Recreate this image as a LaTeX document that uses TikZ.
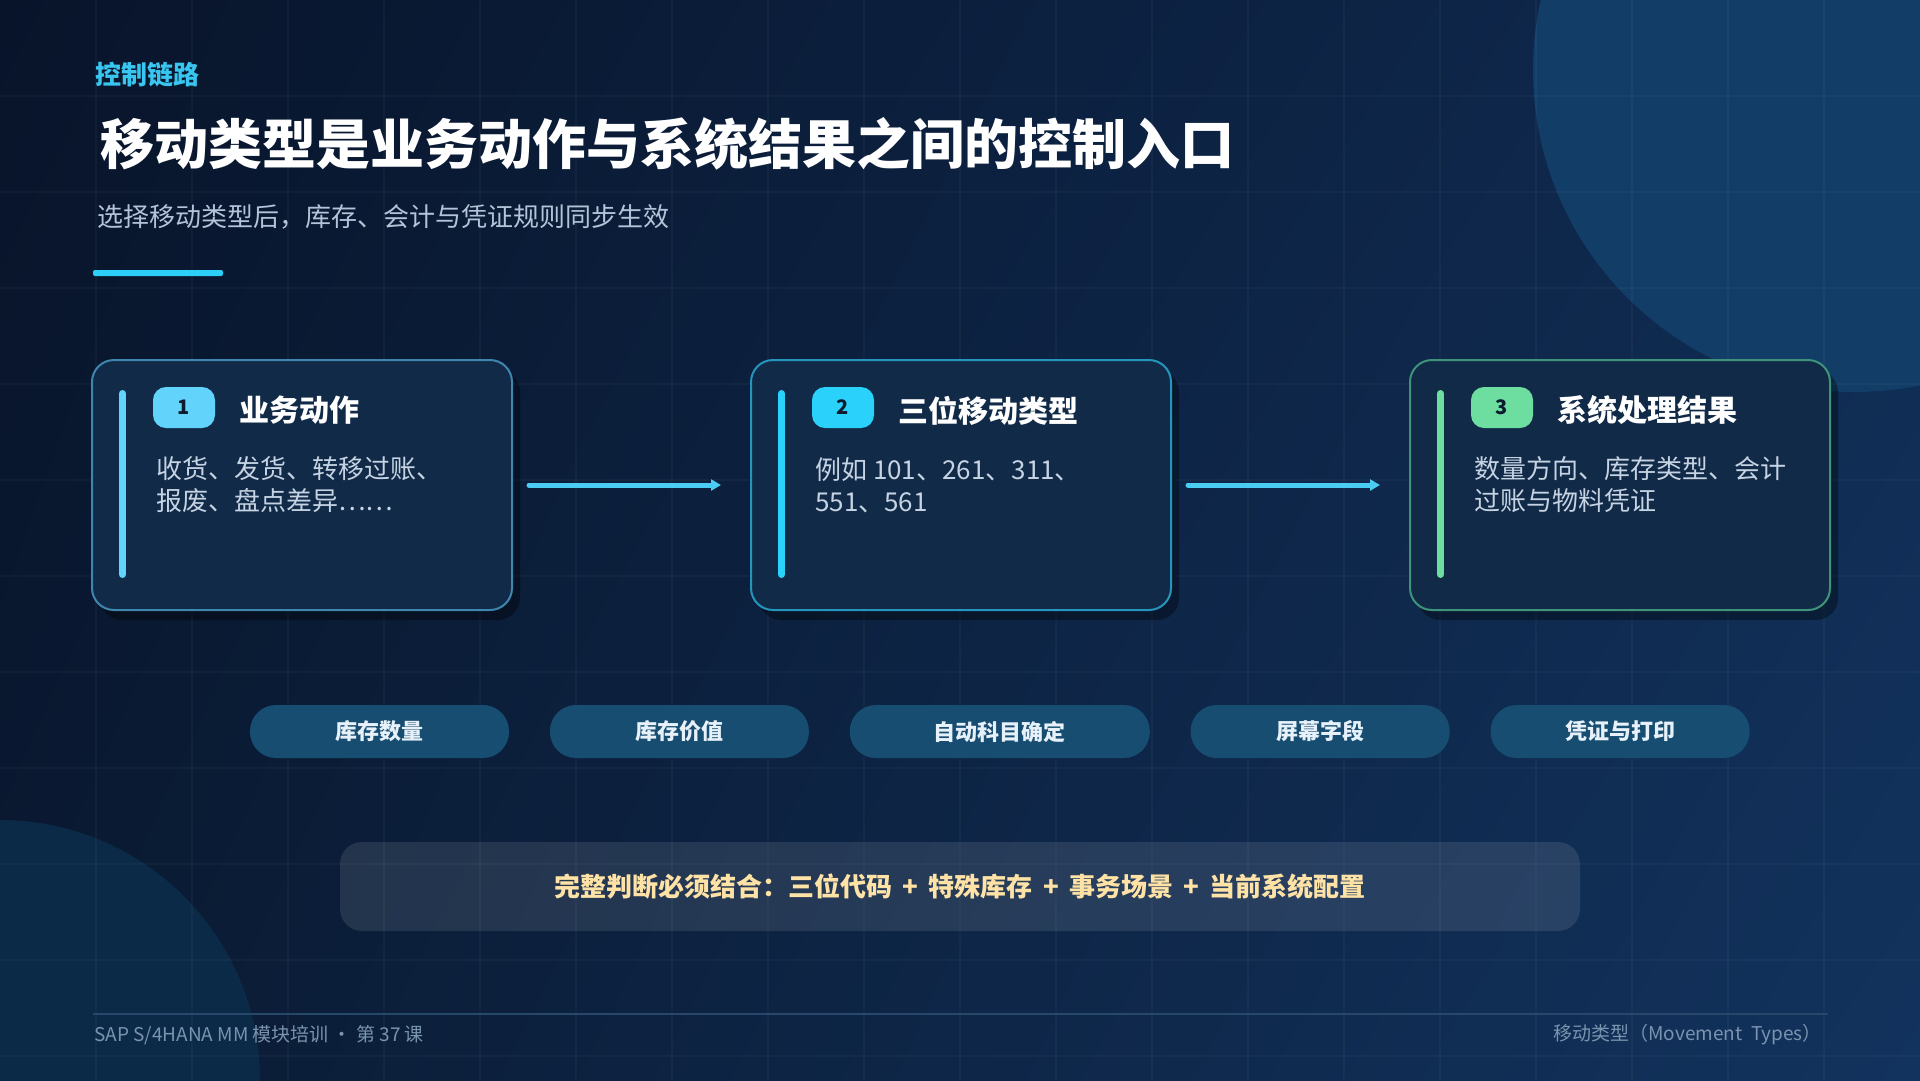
\documentclass[tikz,border=0pt]{standalone}
\usepackage{fontspec}
\setmainfont{Noto Sans CJK SC}
\usetikzlibrary{arrows.meta,positioning,calc,shadows,shadings}
\definecolor{bgUL}{HTML}{08142A}
\definecolor{bgUR}{HTML}{0F2A50}
\definecolor{bgLL}{HTML}{0A1A32}
\definecolor{bgLR}{HTML}{12335E}
\definecolor{blobA}{HTML}{123D66}
\definecolor{blobB}{HTML}{0B2A48}
\definecolor{kicker}{HTML}{38C6F0}
\definecolor{subfg}{HTML}{B4C4D8}
\definecolor{accent}{HTML}{2CCFF8}
\definecolor{cardfill}{HTML}{112A48}
\definecolor{edgeA}{HTML}{3F86AE}
\definecolor{edgeB}{HTML}{2595BE}
\definecolor{edgeC}{HTML}{3E9478}
\definecolor{tagA}{HTML}{62D4FB}
\definecolor{tagB}{HTML}{2AD1FA}
\definecolor{tagC}{HTML}{6EDDA0}
\definecolor{tagfg}{HTML}{0B1B30}
\definecolor{descfg}{HTML}{C5D3E3}
\definecolor{flowfg}{HTML}{4BCDF3}
\definecolor{pillfill}{HTML}{184D72}
\definecolor{pillfg}{HTML}{E6F1FA}
\definecolor{notefg}{HTML}{FFE2A6}
\definecolor{footfg}{HTML}{7A93AE}
\definecolor{footln}{HTML}{27486A}
\begin{document}
\begin{tikzpicture}[x=1pt,y=-1pt,node distance=40.5pt,
 card/.style={draw,line width=2pt,rounded corners=22pt,fill=cardfill,minimum width=420pt,minimum height=250pt,inner sep=0pt,
  drop shadow={shadow xshift=8pt,shadow yshift=-10pt,opacity=.35,fill=black}},
 badge/.style={rounded corners=13pt,minimum width=62pt,minimum height=41pt,inner sep=0pt,text=tagfg,font=\fontsize{20}{24}\selectfont\bfseries},
 cardtitle/.style={inner sep=0pt,yshift=-3pt,text=white,font=\fontsize{30}{36}\selectfont\bfseries},
 desc/.style={inner sep=0pt,align=left,text=descfg,font=\fontsize{26}{32}\selectfont},
 bar/.style={line width=7pt,line cap=round},
 flow/.style={-{Triangle[length=10pt,width=11pt]},line width=5pt,line cap=round,draw=flowfg,shorten <=16pt,shorten >=29pt},
 pill/.style={fill=pillfill,rounded corners=26pt,minimum width=259pt,minimum height=53pt,inner sep=0pt,text=pillfg,font=\fontsize{22}{26}\selectfont\bfseries},
 gridln/.style={draw=white,opacity=.03,line width=1.5pt}]
\useasboundingbox (0,0) rectangle (1920,1080);
% background
\begin{scope}
\clip (0,0) rectangle (1920,1080);
\shade[upper left=bgUL,upper right=bgUR,lower left=bgLL,lower right=bgLR] (0,0) rectangle (1920,1080);
\fill[blobA] (1855,70) circle (322);
\fill[blobB] (0,1080) circle (260);
\foreach \gx in {96,192,...,1824} \draw[gridln] (\gx,0) -- (\gx,1080);
\foreach \gy in {96,192,...,1056} \draw[gridln] (0,\gy) -- (1920,\gy);
\end{scope}
% heading
\node[anchor=west,inner sep=0pt,text=kicker,font=\fontsize{26}{30}\selectfont\bfseries] (kick) at (95,75) {控制链路};
\node[anchor=west,inner sep=0pt,text=white,font=\fontsize{54}{60}\selectfont\bfseries] (head) at (100,144) {移动类型是业务动作与系统结果之间的控制入口};
\node[anchor=west,inner sep=0pt,text=subfg,font=\fontsize{26}{30}\selectfont] (sub) at (97,217) {选择移动类型后，库存、会计与凭证规则同步生效};
\fill[accent,rounded corners=2pt] (93,270) rectangle (223,276);
% cards
\node[card,draw=edgeA] (act) at (302,485) {};
\node[card,draw=edgeB,right=237pt of act] (code) {};
\node[card,draw=edgeC,right=237pt of code] (res) {};
\draw[bar,draw=tagA] ($(act.north west)+(31.5,34.5)$) -- ($(act.north west)+(31.5,215.5)$);
\draw[bar,draw=tagB] ($(code.north west)+(31.5,34.5)$) -- ($(code.north west)+(31.5,215.5)$);
\draw[bar,draw=tagC] ($(res.north west)+(31.5,34.5)$) -- ($(res.north west)+(31.5,215.5)$);
\node[badge,fill=tagA] (n1) at ($(act.north west)+(93,48.5)$) {1};
\node[badge,fill=tagB] (n2) at ($(code.north west)+(93,48.5)$) {2};
\node[badge,fill=tagC] (n3) at ($(res.north west)+(93,48.5)$) {3};
\node[cardtitle,right=24pt of n1] (t1) {业务动作};
\node[cardtitle,right=24pt of n2] (t2) {三位移动类型};
\node[cardtitle,right=24pt of n3] (t3) {系统处理结果};
\node[desc,anchor=west] (d1) at ($(act.west)+(65,0)$) {收货、发货、转移过账、\\报废、盘点差异……};
\node[desc,anchor=west] (d2) at ($(code.west)+(65,0)$) {例如 101、261、311、\\551、561};
\node[desc,anchor=west] (d3) at ($(res.west)+(65,0)$) {数量方向、库存类型、会计\\过账与物料凭证};
\draw[flow] (act) -- (code);
\draw[flow] (code) -- (res);
% result tags
\node[pill] (qty) at (379.5,731.5) {库存数量};
\node[pill,right=of qty] (val) {库存价值};
\node[pill,minimum width=300pt,right=of val] (acct) {自动科目确定};
\node[pill,right=of acct] (scr) {屏幕字段};
\node[pill,right=of scr] (doc) {凭证与打印};
% note
\node[fill=white,fill opacity=.1,text opacity=1,rounded corners=22pt,minimum width=1240pt,minimum height=89pt,inner sep=0pt,
 text=notefg,font=\fontsize{26}{30}\selectfont\bfseries] (note) at (960,886.5) {完整判断必须结合：三位代码 \,+\, 特殊库存 \,+\, 事务场景 \,+\, 当前系统配置};
% footer
\draw[footln,line width=1.5pt] (93,1014) -- (1828,1014);
\node[anchor=west,inner sep=0pt,text=footfg,font=\fontsize{19}{23}\selectfont] (foot) at (94,1035) {SAP S/4HANA MM 模块培训 · 第 37 课};
\node[anchor=east,inner sep=0pt,text=footfg,font=\fontsize{19}{23}\selectfont] (topic) at (1822,1035) {移动类型（Movement\ \ Types）};
\end{tikzpicture}
\end{document}
